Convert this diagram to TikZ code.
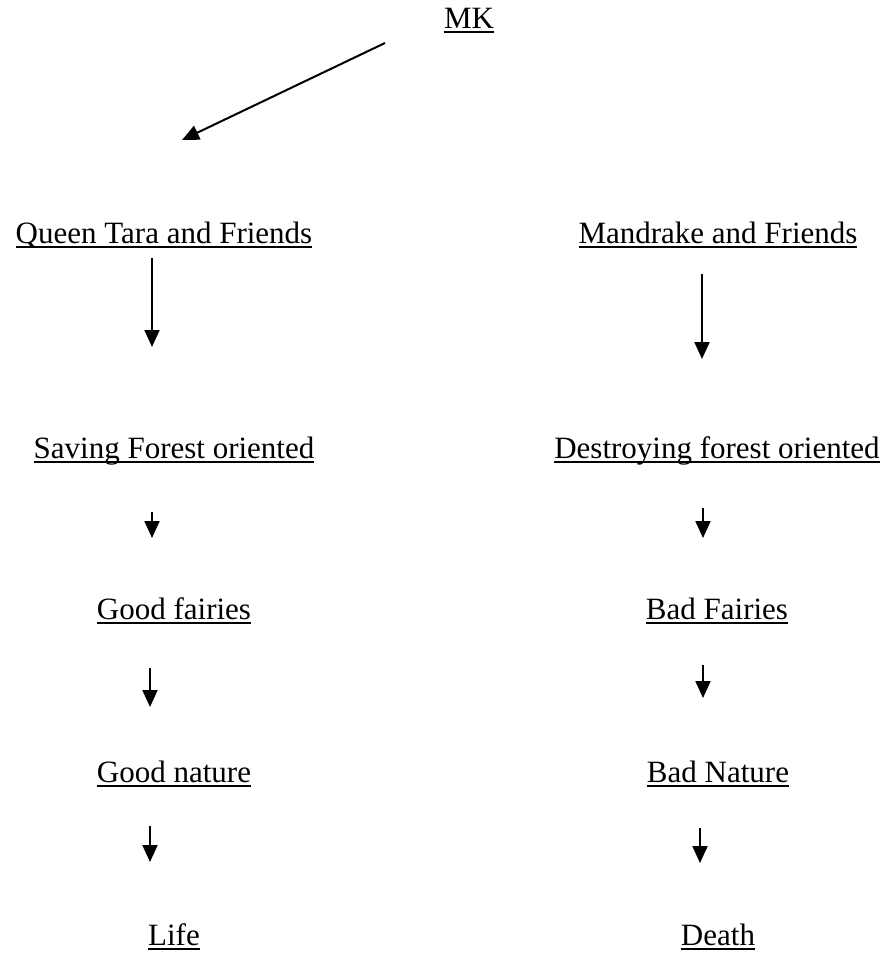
\documentclass[tikz,border=0pt]{standalone}
\usepackage{fontspec}
\setmainfont{Liberation Serif}
\usepackage{tikz}
\usetikzlibrary{arrows.meta}

% thicker underline, as in the reference
\newcommand{\uln}[1]{\leavevmode\setbox0=\hbox{#1}\rlap{\rule[-4.5pt]{\wd0}{1.8pt}}\box0}

\begin{document}
\begin{tikzpicture}[x=1pt, y=-1pt, line width=2pt,
    lbl/.style={anchor=base, inner sep=0pt, font=\fontsize{31}{36}\selectfont},
    arr/.style={-{Triangle[length=17pt, width=15pt]}}]
  \useasboundingbox (0, 0) rectangle (885, 953);

  % top
  \node[lbl] (mk) at (469, 28) {\uln{MK}};

  % left side
  \node[lbl] (qt) at (164, 243) {\uln{Queen Tara and Friends}};
  \node[lbl] (sf) at (174, 458) {\uln{Saving Forest oriented}};
  \node[lbl] (gf) at (174, 619) {\uln{Good fairies}};
  \node[lbl] (gn) at (174, 782) {\uln{Good nature}};
  \node[lbl] (life) at (174, 945) {\uln{Life}};

  % right side
  \node[lbl] (mf) at (718, 243) {\uln{Mandrake and Friends}};
  \node[lbl] (df) at (717, 458) {\uln{Destroying forest oriented}};
  \node[lbl] (bf) at (717, 619) {\uln{Bad Fairies}};
  \node[lbl] (bn) at (718, 782) {\uln{Bad Nature}};
  \node[lbl] (death) at (718, 945) {\uln{Death}};

  \draw [arr] ([xshift=-84pt, yshift=-15pt]mk.base) -- ([xshift=18pt, yshift=103pt]qt.base);

  \draw [arr, shorten <=15pt, shorten >=111pt] ([xshift=-12pt]qt.base) -- ([xshift=-22pt]sf.base);
  \draw [arr, shorten <=54pt, shorten >=81pt] ([xshift=-22pt]sf.base) -- ([xshift=-22pt]gf.base);
  \draw [arr, shorten <=49pt, shorten >=75pt] ([xshift=-24pt]gf.base) -- ([xshift=-24pt]gn.base);
  \draw [arr, shorten <=44pt, shorten >=83pt] ([xshift=-24pt]gn.base) -- ([xshift=-24pt]life.base);

  \draw [arr, shorten <=31pt, shorten >=99pt] ([xshift=-16pt]mf.base) -- ([xshift=-15pt]df.base);
  \draw [arr, shorten <=50pt, shorten >=81pt] ([xshift=-14pt]df.base) -- ([xshift=-14pt]bf.base);
  \draw [arr, shorten <=46pt, shorten >=84pt] ([xshift=-14pt]bf.base) -- ([xshift=-15pt]bn.base);
  \draw [arr, shorten <=46pt, shorten >=82pt] ([xshift=-18pt]bn.base) -- ([xshift=-18pt]death.base);

\end{tikzpicture}
\end{document}
